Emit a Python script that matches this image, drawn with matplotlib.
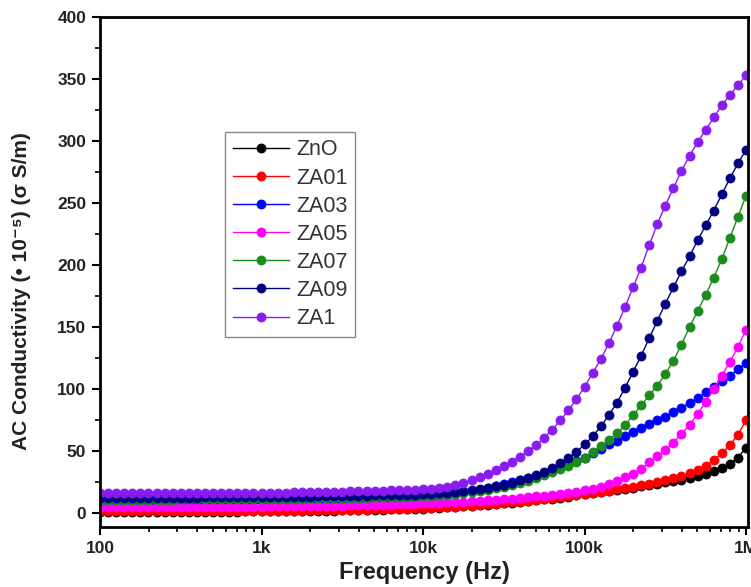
import numpy as np
import matplotlib
matplotlib.use('Agg')
import matplotlib.pyplot as plt
from matplotlib.ticker import FixedLocator, FixedFormatter, MultipleLocator, LogLocator, NullFormatter

plt.rcParams['font.family'] = ['Liberation Sans', 'DejaVu Sans']

# frequency sweep, 20 points per decade from 100 Hz to 1 MHz
freq = np.logspace(2, 6, 81)

labels = ['ZnO', 'ZA01', 'ZA03', 'ZA05', 'ZA07', 'ZA09', 'ZA1']
colors = ['#000000', '#ff0000', '#0000ff', '#ff00ff', '#1a8c1a', '#000080', '#8a1cf0']

zno = [1.0, 1.0, 1.0, 1.0, 1.0, 1.0, 1.1, 1.1, 1.1, 1.1, 1.2, 1.2, 1.2, 1.3, 1.3, 1.3, 1.4, 1.4, 1.5, 1.5, 1.6,
       1.6, 1.7, 1.7, 1.8, 1.9, 2.0, 2.1, 2.2, 2.3, 2.4, 2.5, 2.6, 2.7, 2.9, 3.0, 3.2, 3.3, 3.5, 3.7, 3.9,
       4.2, 4.5, 4.8, 5.2, 5.6, 6.0, 6.5, 7.0, 7.5, 8.0, 8.6, 9.2, 9.8, 10.5, 11.2, 11.9, 12.7, 13.5, 14.4, 15.3,
       16.1, 17.0, 17.9, 18.8, 19.7, 20.7, 21.7, 22.7, 23.8, 24.9, 26.0, 27.2, 28.5, 30.0, 31.7, 33.8, 36.5, 40.0, 45.0, 53.0]
za01 = [1.5, 1.5, 1.5, 1.5, 1.5, 1.5, 1.5, 1.6, 1.6, 1.6, 1.6, 1.7, 1.7, 1.7, 1.8, 1.8, 1.8, 1.9, 1.9, 2.0, 2.0,
        2.1, 2.1, 2.2, 2.3, 2.3, 2.4, 2.5, 2.6, 2.7, 2.8, 2.9, 3.0, 3.1, 3.2, 3.4, 3.5, 3.7, 3.8, 4.0, 4.2,
        4.5, 4.8, 5.1, 5.5, 5.9, 6.3, 6.8, 7.3, 7.8, 8.3, 8.9, 9.5, 10.1, 10.8, 11.5, 12.2, 13.0, 13.8, 14.7, 15.6,
        16.5, 17.4, 18.4, 19.4, 20.5, 21.6, 22.8, 24.0, 25.3, 26.7, 28.3, 30.2, 32.4, 35.0, 38.5, 43.0, 48.5, 55.0, 63.5, 75.0]
za03 = [9.0, 9.0, 9.0, 9.0, 9.0, 9.0, 9.1, 9.1, 9.1, 9.1, 9.2, 9.2, 9.2, 9.3, 9.3, 9.4, 9.4, 9.5, 9.5, 9.6, 9.6,
        9.7, 9.8, 9.9, 10.0, 10.1, 10.2, 10.3, 10.4, 10.6, 10.7, 10.9, 11.0, 11.2, 11.4, 11.6, 11.8, 12.0, 12.2, 12.5, 12.8,
        13.5, 14.2, 15.0, 15.9, 16.9, 18.0, 19.2, 20.5, 21.9, 23.4, 25.0, 26.7, 28.5, 30.4, 32.4, 34.6, 36.9, 39.4, 42.0, 45.0,
        48.5, 52.0, 55.5, 58.5, 62.0, 65.5, 68.5, 72.0, 75.0, 78.0, 81.5, 85.0, 89.0, 93.0, 97.5, 102.0, 106.5, 111.0, 116.0, 121.0]
za05 = [5.0, 5.0, 5.0, 5.0, 5.0, 5.0, 5.1, 5.1, 5.1, 5.1, 5.2, 5.2, 5.2, 5.3, 5.3, 5.3, 5.4, 5.4, 5.4, 5.5, 5.5,
        5.6, 5.6, 5.7, 5.8, 5.8, 5.9, 6.0, 6.1, 6.2, 6.3, 6.4, 6.5, 6.7, 6.8, 7.0, 7.1, 7.3, 7.5, 7.7, 8.0,
        8.3, 8.6, 8.9, 9.2, 9.5, 9.8, 10.2, 10.6, 11.0, 11.4, 11.9, 12.4, 13.0, 13.6, 14.3, 15.0, 15.8, 16.6, 17.5, 18.5,
        19.8, 21.5, 23.5, 26.0, 29.0, 32.0, 36.0, 41.0, 46.0, 51.0, 57.0, 64.0, 71.0, 80.0, 90.0, 100.0, 111.0, 122.0, 134.0, 148.0]
za07 = [11.0, 11.0, 11.0, 11.0, 11.0, 11.0, 11.1, 11.1, 11.1, 11.1, 11.2, 11.2, 11.2, 11.3, 11.3, 11.3, 11.4, 11.4, 11.5, 11.5, 11.6,
        11.6, 11.7, 11.8, 11.8, 11.9, 12.0, 12.1, 12.2, 12.3, 12.4, 12.5, 12.6, 12.7, 12.9, 13.0, 13.1, 13.3, 13.4, 13.6, 13.8,
        14.1, 14.5, 15.0, 15.6, 16.3, 17.1, 18.0, 19.0, 20.2, 21.5, 23.0, 24.6, 26.4, 28.4, 30.6, 33.0, 35.6, 38.4, 41.5, 45.0,
        49.5, 54.0, 59.0, 64.5, 71.0, 79.0, 87.0, 95.0, 103.0, 112.0, 123.0, 136.0, 150.0, 163.0, 176.0, 190.0, 205.0, 222.0, 239.0, 256.0]
za09 = [12.5, 12.5, 12.5, 12.5, 12.5, 12.5, 12.6, 12.6, 12.6, 12.6, 12.7, 12.7, 12.7, 12.8, 12.8, 12.8, 12.9, 12.9, 13.0, 13.0, 13.1,
        13.1, 13.2, 13.3, 13.3, 13.4, 13.5, 13.6, 13.7, 13.8, 13.9, 14.0, 14.1, 14.2, 14.4, 14.5, 14.6, 14.8, 14.9, 15.1, 15.3,
        15.6, 16.0, 16.5, 17.1, 17.8, 18.6, 19.5, 20.6, 21.8, 23.2, 24.8, 26.5, 28.5, 30.8, 33.5, 36.6, 40.2, 44.5, 49.5, 55.5,
        62.0, 70.0, 79.0, 89.0, 101.0, 114.0, 127.0, 141.0, 155.0, 169.0, 182.0, 195.0, 207.0, 220.0, 232.0, 244.0, 257.0, 270.0, 282.0, 293.0]
za1 = [16.0, 16.0, 16.0, 16.0, 16.0, 16.0, 16.1, 16.1, 16.1, 16.1, 16.2, 16.2, 16.2, 16.3, 16.3, 16.3, 16.4, 16.4, 16.5, 16.5, 16.6,
       16.7, 16.7, 16.8, 16.9, 17.0, 17.1, 17.2, 17.3, 17.4, 17.5, 17.7, 17.8, 18.0, 18.2, 18.3, 18.5, 18.7, 18.9, 19.1, 19.3,
       19.7, 20.3, 21.2, 22.5, 24.2, 26.5, 29.0, 31.8, 34.8, 38.0, 41.5, 45.5, 50.0, 55.0, 61.0, 67.5, 75.0, 83.0, 92.0, 102.0,
       113.0, 124.0, 137.0, 151.0, 166.0, 182.0, 198.0, 216.0, 233.0, 248.0, 262.0, 276.0, 288.0, 299.0, 309.0, 319.0, 329.0, 337.0, 345.0, 353.0]

series = [zno, za01, za03, za05, za07, za09, za1]

xticks = [1e2, 1e3, 1e4, 1e5, 1e6]
xticklabels = ['100', '1k', '10k', '100k', '1M']

fig = plt.figure(figsize=(7.51, 5.87), dpi=100)
ax = fig.add_axes([0.1332, 0.1022, 0.863, 0.869])

for vals, lab, col in zip(series, labels, colors):
    ax.plot(freq, vals, '-', color=col, lw=1.0, marker='o', markersize=6.5,
            markerfacecolor=col, markeredgecolor=col, markeredgewidth=0.6, label=lab)

ax.set_xscale('log')
ax.set_xlim(100, 1.03e6)
ax.set_ylim(-11, 400)

ax.xaxis.set_major_locator(FixedLocator(xticks))
ax.xaxis.set_major_formatter(FixedFormatter(xticklabels))
ax.xaxis.set_minor_locator(LogLocator(base=10, subs=np.arange(2, 10)))
ax.xaxis.set_minor_formatter(NullFormatter())
ax.yaxis.set_major_locator(MultipleLocator(50))
ax.yaxis.set_minor_locator(MultipleLocator(25))

ax.tick_params(which='major', direction='out', length=6, width=1.5, labelsize=12.5, pad=4)
ax.tick_params(which='minor', direction='out', length=3.5, width=1.2)
for t in ax.get_xticklabels() + ax.get_yticklabels():
    t.set_fontweight('bold')
    t.set_color('#222222')

for s in ax.spines.values():
    s.set_linewidth(2.0)

ax.set_xlabel('Frequency (Hz)', fontsize=17, fontweight='bold', color='#222222', labelpad=4)
ax.set_ylabel('AC Conductivity (• 10⁻⁵) (σ S/m)', fontsize=15, fontweight='bold', color='#222222')
ax.yaxis.set_label_coords(-0.106, 0.463)

leg = ax.legend(loc='upper left', bbox_to_anchor=(0.193, 0.7745), borderaxespad=0,
                fontsize=15.5, handlelength=2.6, handletextpad=0.35, labelspacing=0.33,
                fancybox=False, framealpha=1, edgecolor='#888888', borderpad=0.35)
for t in leg.get_texts():
    t.set_color('#333333')

fig.savefig('out.png', dpi=100)
